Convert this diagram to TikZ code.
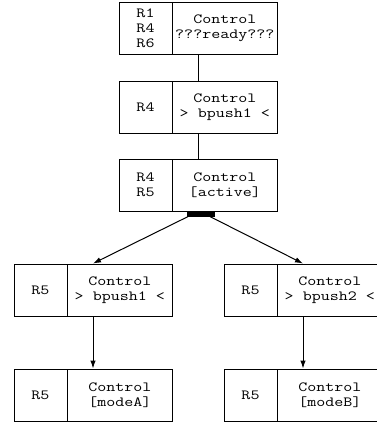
\documentclass[tikz,border=0pt]{standalone}
\usepackage{fontspec}
\setmonofont{Latin Modern Mono}[FakeStretch=1.25]
\usetikzlibrary{arrows.meta}

\tikzstyle{bS}=[rectangle,minimum width=158pt,minimum height=52pt,inner sep=0pt,draw,line width=1pt]
\tikzstyle{rS}=[rectangle,minimum width=53pt,minimum height=52pt,inner sep=0pt,draw,line width=1pt,anchor=west,font=\ttfamily\fontsize{14}{15}\selectfont,align=center]
\tikzstyle{cS}=[rectangle,minimum width=105pt,minimum height=52pt,inner sep=0pt,anchor=east,font=\ttfamily\fontsize{14}{15}\selectfont,align=center]
\tikzstyle{fS}=[rectangle,minimum width=28pt,minimum height=5.5pt,inner sep=0pt,fill=black]
\tikzstyle{eS}=[line width=1pt,draw]
\tikzstyle{eA}=[line width=1pt,draw,-{Latex[length=8pt,width=5.5pt]}]

\begin{document}
\begin{tikzpicture}[x=1pt,y=-1pt]
                \useasboundingbox (0,0) rectangle (376,424);
                % boxes
                \draw (198,28) node[bS] (b0) {};
                \draw (198,107) node[bS] (b1) {};
                \draw (198,185) node[bS] (b2) {};
                \draw (93,290) node[bS] (b3) {};
                \draw (303,290) node[bS] (b4) {};
                \draw (93,395) node[bS] (b5) {};
                \draw (303,395) node[bS] (b6) {};
                % left and right parts
                \draw (b0.west) node[rS] (r0) {R1\\R4\\R6};
                \draw (b0.east) node[cS] (c0) {Control\\???ready???};
                \draw (b1.west) node[rS] (r1) {R4};
                \draw (b1.east) node[cS] (c1) {Control\\> bpush1 <};
                \draw (b2.west) node[rS] (r2) {R4\\R5};
                \draw (b2.east) node[cS] (c2) {Control\\{}[active]};
                \draw (b3.west) node[rS] (r3) {R5};
                \draw (b3.east) node[cS] (c3) {Control\\> bpush1 <};
                \draw (b4.west) node[rS] (r4) {R5};
                \draw (b4.east) node[cS] (c4) {Control\\> bpush2 <};
                \draw (b5.west) node[rS] (r5) {R5};
                \draw (b5.east) node[cS] (c5) {Control\\{}[modeA]};
                \draw (b6.west) node[rS] (r6) {R5};
                \draw (b6.east) node[cS] (c6) {Control\\{}[modeB]};
                % fork bar
                \draw (201,213.75) node[fS] (fork) {};
                \path
                    (b0.south) edge[eS] (b1.north)
                    (b1.south) edge[eS] (b2.north)
                    ([xshift=1pt]fork.south west) edge[eA] (b3.north)
                    ([xshift=-5pt]fork.south east) edge[eA] (b4.north)
                    (b3.south) edge[eA] (b5.north)
                    (b4.south) edge[eA] (b6.north)
                ;
        \end{tikzpicture}
\end{document}
